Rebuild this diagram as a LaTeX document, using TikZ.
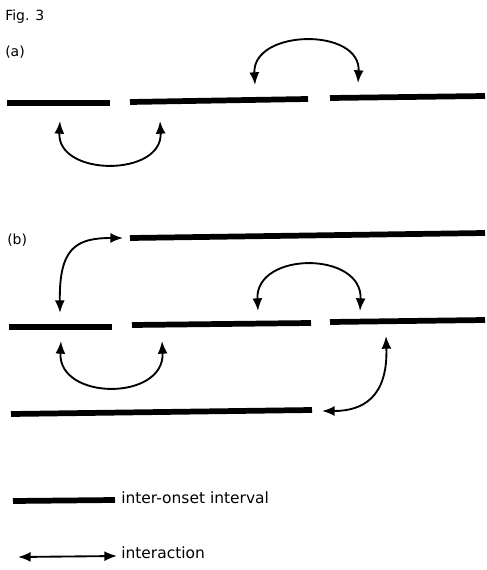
\documentclass[tikz,border=0pt]{standalone}
\usepackage{fontspec}
\setmainfont{DejaVu Sans}
\usetikzlibrary{arrows.meta}
\begin{document}
\begin{tikzpicture}[x=0.75pt,y=-0.75pt,
  ioi/.style={line width=4.3pt},
  tip/.style={Latex[length=9.5pt,width=7.5pt]},
  interact/.style={line width=1.4pt,{Latex[length=9.5pt,width=7.5pt]}-{Latex[length=9.5pt,width=7.5pt]}},
  lbl/.style={anchor=west,inner sep=0pt,font=\fontsize{11.6pt}{13pt}\selectfont},
  tag/.style={anchor=west,inner sep=0pt,font=\fontsize{10.5pt}{12pt}\selectfont}]
\useasboundingbox (0,0) rectangle (486,570);
% labels
\node[tag] (fig) at (5,17) {Fig. 3};
\node[tag] (la) at (5,52) {(a)};
\node[tag] (lb) at (7,240) {(b)};
% (a) intervals
\coordinate (a1s) at (7,103);   \coordinate (a1e) at (110,103);
\coordinate (a2s) at (130,102); \coordinate (a2e) at (308,99);
\coordinate (a3s) at (330,98);  \coordinate (a3e) at (485,96);
\draw[ioi] (a1s) -- (a1e);
\draw[ioi] (a2s) -- (a2e);
\draw[ioi] (a3s) -- (a3e);
% (a) interactions
\coordinate (aL1) at (60,121);  \coordinate (aL2) at (160,121);
\coordinate (aU1) at (255,85);  \coordinate (aU2) at (358,83);
\draw[interact] (aL1) .. controls (57,177) and (163,177) .. (aL2);
\draw[interact] (aU1) .. controls (252,29) and (361,27) .. (aU2);
% (b) intervals
\coordinate (t1s) at (130,238); \coordinate (t1e) at (485,233);
\coordinate (m1s) at (9,327);   \coordinate (m1e) at (112,327);
\coordinate (m2s) at (132,325); \coordinate (m2e) at (311,323);
\coordinate (m3s) at (330,322); \coordinate (m3e) at (485,320);
\coordinate (b1s) at (11,414);  \coordinate (b1e) at (312,410);
\draw[ioi] (t1s) -- (t1e);
\draw[ioi] (m1s) -- (m1e);
\draw[ioi] (m2s) -- (m2e);
\draw[ioi] (m3s) -- (m3e);
\draw[ioi] (b1s) -- (b1e);
% (b) interactions
\coordinate (bT1) at (60,313);  \coordinate (bT2) at (123,238);
\coordinate (bU1) at (258,311); \coordinate (bU2) at (360,311);
\coordinate (bL1) at (61,341);  \coordinate (bL2) at (162,341);
\coordinate (bR1) at (386,336); \coordinate (bR2) at (322,411);
\draw[interact] (bT1) .. controls (59,248) and (76,238) .. (bT2);
\draw[interact] (bU1) .. controls (255,251) and (363,251) .. (bU2);
\draw[interact] (bL1) .. controls (58,401) and (165,401) .. (bL2);
\draw[interact] (bR1) .. controls (388,398) and (362,411) .. (bR2);
% legend
\coordinate (k1s) at (13,501); \coordinate (k1e) at (115,500);
\draw[ioi] (k1s) -- (k1e);
\node[lbl] (k1t) at (121,498) {inter-onset interval};
\coordinate (k2s) at (18,557); \coordinate (k2e) at (117,556);
\draw[interact] (k2s) -- (k2e);
\node[lbl] (k2t) at (121,553) {interaction};
\end{tikzpicture}
\end{document}
